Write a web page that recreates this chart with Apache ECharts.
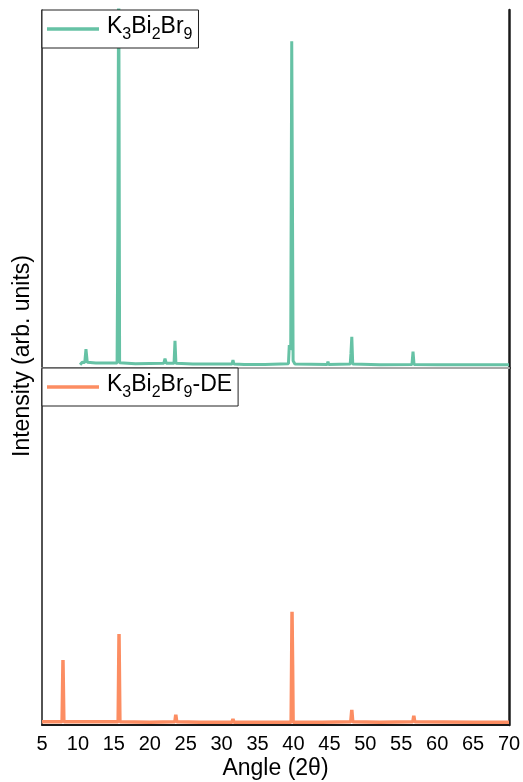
<!DOCTYPE html>
<html>
<head>
<meta charset="utf-8">
<script src="https://cdn.jsdelivr.net/npm/echarts@6/dist/echarts.min.js"></script>
<style>
  html, body { margin: 0; padding: 0; background: #fff; }
  #chart { width: 523px; height: 782px; }
</style>
</head>
<body>
<div id="chart"></div>
<script>
// XRD patterns: 2θ angle (degrees) and relative intensity (arb. units, 0–100 per panel)
const seriesNames = ['K3Bi2Br9', 'K3Bi2Br9-DE'];

const pristineAngle = [10.3, 10.6, 10.95, 11.12, 11.3, 12.5, 14.0, 15.45, 15.55, 15.68, 15.8, 16.0, 18.0,
  21.95, 22.12, 22.3, 23.38, 23.51, 23.64, 26.0, 31.45, 31.58, 31.72, 33.15, 33.25, 33.35, 36.0,
  39.3, 39.42, 39.62, 39.76, 39.86, 39.95, 40.2, 44.7, 44.8, 44.9, 47.9, 48.0, 48.12, 48.25,
  52.0, 56.5, 56.64, 56.78, 60.0, 65.85, 65.96, 66.05, 70.0];
const pristineIntensity = [0.9, 1.6, 1.5, 5.3, 1.6, 1.4, 1.4, 1.4, 37, 118, 1.5, 1.3, 1.2,
  1.3, 2.6, 1.3, 1.3, 7.6, 1.3, 1.1, 1.1, 2.2, 1.1, 1.0, 1.5, 1.0, 1.0,
  1.2, 6.4, 5.0, 91.3, 46, 2.0, 1.1, 1.0, 1.8, 1.0, 1.1, 4.0, 8.7, 1.1,
  0.9, 1.0, 4.6, 1.0, 0.9, 0.9, 1.3, 0.9, 0.9];

const treatedAngle = [5.0, 7.8, 7.92, 8.04, 10.0, 11.6, 11.7, 11.8, 12.2, 12.3, 12.4, 15.6, 15.72, 15.84,
  20.0, 23.5, 23.62, 23.75, 27.0, 31.45, 31.58, 31.7, 35.0, 39.68, 39.8, 39.88, 39.95, 44.0,
  47.98, 48.12, 48.25, 52.0, 56.62, 56.75, 56.88, 65.0, 70.0];
const treatedIntensity = [0.9, 0.9, 18.2, 0.9, 0.9, 0.9, 1.3, 0.9, 0.9, 1.2, 0.9, 0.9, 25.5, 0.9,
  0.8, 0.9, 2.9, 0.9, 0.8, 0.8, 1.7, 0.8, 0.8, 0.8, 31.7, 16.8, 0.8, 0.8,
  0.9, 4.2, 0.9, 0.8, 0.9, 2.6, 0.9, 0.8, 0.8];

const angleMin = 5, angleMax = 70, angleStep = 5;

const colors = ['#66c2a5', '#fc8d62'];
const font = 'Arial, "Liberation Sans", Helvetica, sans-serif';

function pairs(xs, ys) { return xs.map((x, i) => [x, ys[i]]); }

// Chemical formula with subscripted digits as rich text
function formula(name) {
  return '{n|' + name.replace(/\d/g, d => '}{s|' + d + '}{n|') + '}';
}
const legendRich = {
  n: { fontSize: 23, fontFamily: font, color: '#000', lineHeight: 28, verticalAlign: 'top' },
  s: { fontSize: 16, fontFamily: font, color: '#000', lineHeight: 16, verticalAlign: 'bottom' }
};

function legendFor(name, top) {
  return {
    data: [name],
    left: 42, top: top,
    orient: 'horizontal',
    icon: 'rect',
    itemWidth: 52, itemHeight: 3.5,
    backgroundColor: '#fff',
    borderColor: '#222', borderWidth: 1, borderRadius: 0,
    padding: [5, 6, 5, 5],
    selectedMode: false,
    formatter: formula,
    textStyle: { rich: legendRich, padding: [0, 0, 0, 3] }
  };
}

const hiddenY = (grid, pos, lineW) => ({
  type: 'value', gridIndex: grid, position: pos, min: 0, max: 100,
  axisLine: { show: true, lineStyle: { color: '#1a1a1a', width: lineW } },
  axisTick: { show: false }, axisLabel: { show: false }, splitLine: { show: false }
});

const chart = echarts.init(document.getElementById('chart'), null, { renderer: 'canvas' });
chart.setOption({
  animation: false,
  backgroundColor: '#fff',
  grid: [
    { left: 42, top: 10, width: 467, height: 358, outerBoundsMode: 'none', containLabel: false },
    { left: 42, top: 368, width: 467, height: 357, outerBoundsMode: 'none', containLabel: false }
  ],
  xAxis: [
    { type: 'value', gridIndex: 0, position: 'bottom', min: angleMin, max: angleMax, interval: angleStep,
      axisLine: { show: true, lineStyle: { color: '#1a1a1a', width: 1 } },
      axisTick: { show: false }, axisLabel: { show: false }, splitLine: { show: false } },
    { type: 'value', gridIndex: 0, position: 'top', min: angleMin, max: angleMax, interval: angleStep,
      axisLine: { show: true, lineStyle: { color: '#a8a8a8', width: 2 } },
      axisTick: { show: false }, axisLabel: { show: false }, splitLine: { show: false } },
    { type: 'value', gridIndex: 1, position: 'bottom', min: angleMin, max: angleMax, interval: angleStep,
      name: 'Angle (2θ)', nameLocation: 'middle', nameGap: 32,
      nameTextStyle: { fontSize: 23, fontFamily: font, color: '#000' },
      axisLine: { show: true, lineStyle: { color: '#1a1a1a', width: 2 } },
      axisTick: { show: false },
      axisLabel: { fontSize: 20, fontFamily: font, color: '#000', margin: 9 },
      splitLine: { show: false } }
  ],
  yAxis: [
    hiddenY(0, 'left', 1.5), hiddenY(0, 'right', 2.5),
    hiddenY(1, 'left', 1.5), hiddenY(1, 'right', 2.5)
  ],
  legend: [legendFor(seriesNames[0], 10), legendFor(seriesNames[1], 368)],
  graphic: [{
    type: 'text', x: 23, y: 356, rotation: Math.PI / 2, z: 10,
    style: { text: 'Intensity (arb. units)', fontSize: 23, fontFamily: font, fill: '#000',
      align: 'center', verticalAlign: 'middle' }
  }],
  series: [
    { name: seriesNames[0], type: 'line', xAxisIndex: 0, yAxisIndex: 0, symbol: 'none',
      clip: true, color: colors[0], lineStyle: { width: 3, color: colors[0] },
      data: pairs(pristineAngle, pristineIntensity) },
    { name: seriesNames[1], type: 'line', xAxisIndex: 2, yAxisIndex: 2, symbol: 'none',
      clip: true, color: colors[1], lineStyle: { width: 3.5, color: colors[1] },
      data: pairs(treatedAngle, treatedIntensity) }
  ]
});
</script>
</body>
</html>
